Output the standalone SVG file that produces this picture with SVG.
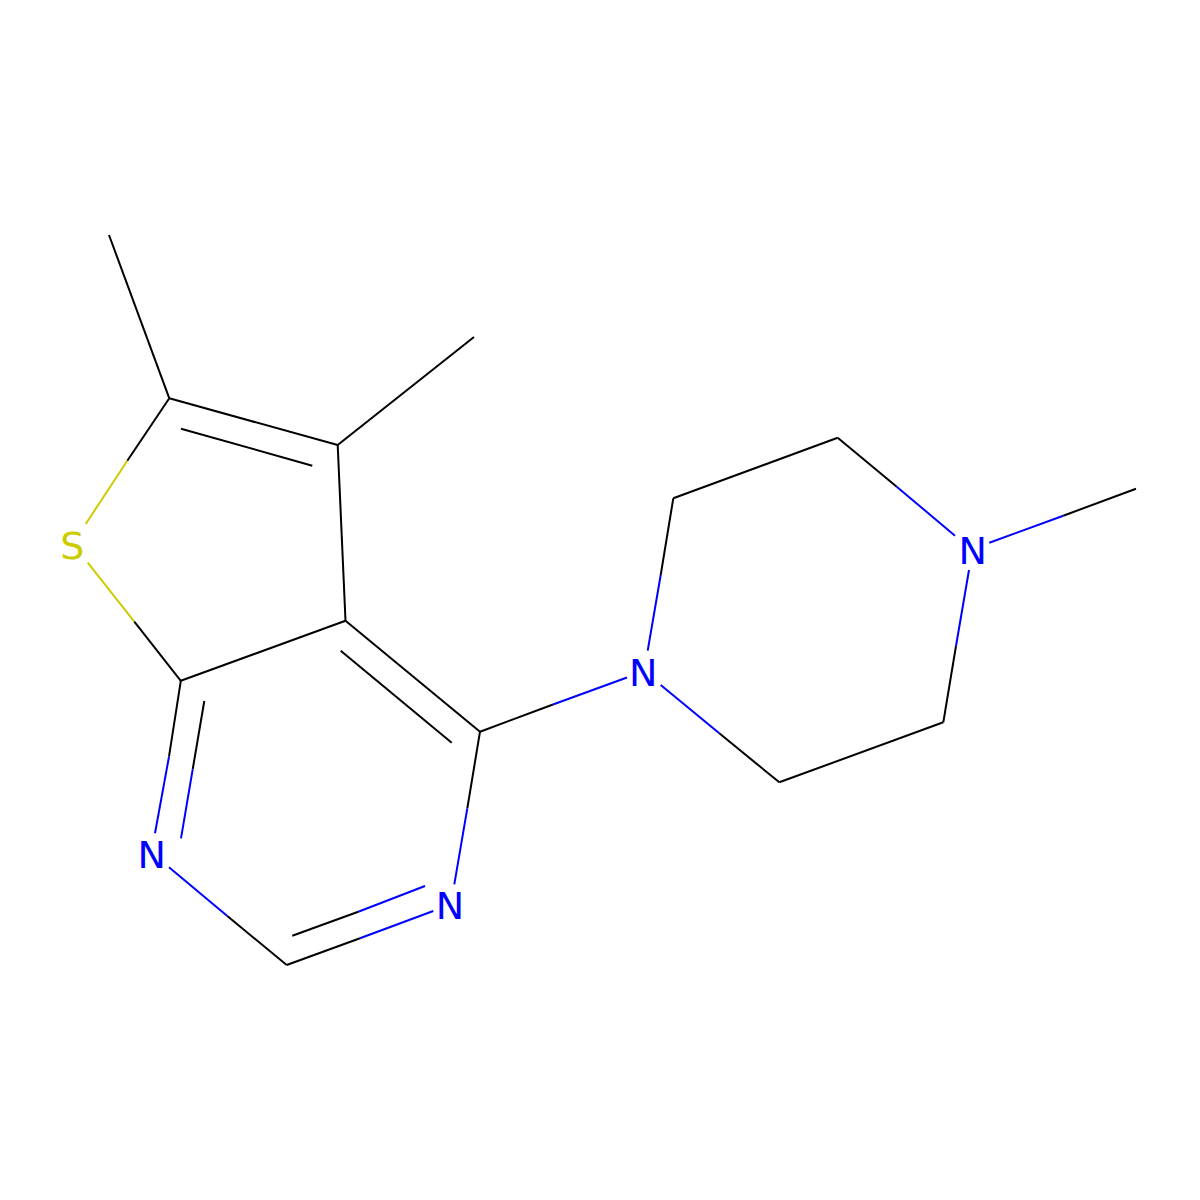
<svg xmlns="http://www.w3.org/2000/svg" width="1200" height="1200" viewBox="0 0 1200 1200">
<style>
.b{stroke:#000;stroke-width:2;fill:none;stroke-linecap:butt}
.n{stroke:#0000FF;stroke-width:2;fill:none}
.s{stroke:#CCCC00;stroke-width:2;fill:none}
.lab{font-family:"DejaVu Sans",sans-serif;font-size:38px;text-anchor:middle}
</style>
<rect width="1200" height="1200" fill="#fff"/>
<g id="connectors">
<line class="b" x1="109" y1="235" x2="169.3" y2="398.3"/>
<line class="b" x1="474" y1="337" x2="337.7" y2="445"/>
<line class="b" x1="169.3" y1="398.3" x2="337.7" y2="445"/>
<line class="b" x1="181" y1="428.7" x2="312.3" y2="465.7"/>
<line class="b" x1="337.7" y1="445" x2="345.5" y2="620.7"/>
<line class="b" x1="169.3" y1="398.3" x2="127.3" y2="460.7"/>
<line class="s" x1="127.3" y1="460.7" x2="85.7" y2="524"/>
<line class="s" x1="87.7" y1="562.7" x2="134.3" y2="621.7"/>
<line class="b" x1="134.3" y1="621.7" x2="180.8" y2="680.8"/>
<line class="b" x1="180.8" y1="680.8" x2="345.5" y2="620.7"/>
<line class="b" x1="345.5" y1="620.7" x2="480" y2="731.7"/>
<line class="b" x1="340.7" y1="650.7" x2="451.7" y2="742.7"/>
<line class="b" x1="180.8" y1="680.8" x2="169" y2="756.7"/>
<line class="n" x1="169" y1="756.7" x2="155" y2="833.3"/>
<line class="b" x1="204.3" y1="701" x2="192.7" y2="769.3"/>
<line class="n" x1="192.7" y1="769.3" x2="181" y2="838.3"/>
<line class="b" x1="480" y1="731.7" x2="467.3" y2="808.3"/>
<line class="n" x1="467.3" y1="808.3" x2="454.3" y2="884.3"/>
<line class="n" x1="433.3" y1="911" x2="360" y2="938.3"/>
<line class="b" x1="360" y1="938.3" x2="286.7" y2="965"/>
<line class="n" x1="425" y1="886" x2="358.3" y2="911.7"/>
<line class="b" x1="358.3" y1="911.7" x2="292.3" y2="935.7"/>
<line class="n" x1="169" y1="867.3" x2="227.3" y2="916"/>
<line class="b" x1="227.3" y1="916" x2="286.7" y2="965"/>
<line class="b" x1="480" y1="731.7" x2="553" y2="704.5"/>
<line class="n" x1="553" y1="704.5" x2="627" y2="677.5"/>
<line class="b" x1="673.3" y1="498.3" x2="660.7" y2="575"/>
<line class="n" x1="660.7" y1="575" x2="647.7" y2="650.7"/>
<line class="n" x1="660.7" y1="685" x2="719.3" y2="733.3"/>
<line class="b" x1="719.3" y1="733.3" x2="779.3" y2="782.3"/>
<line class="b" x1="779.3" y1="782.3" x2="943.3" y2="722.3"/>
<line class="b" x1="943.3" y1="722.3" x2="956" y2="646"/>
<line class="n" x1="956" y1="646" x2="969" y2="570"/>
<line class="b" x1="673.3" y1="498.3" x2="837.7" y2="437.7"/>
<line class="b" x1="837.7" y1="437.7" x2="896.7" y2="486.7"/>
<line class="n" x1="896.7" y1="486.7" x2="955" y2="535.7"/>
<line class="n" x1="989.3" y1="542.7" x2="1063.3" y2="515.7"/>
<line class="b" x1="1063.3" y1="515.7" x2="1136" y2="488.7"/>
</g>
<g id="atom-S"><text class="lab" x="72.3" y="558.8" fill="#CCCC00">S</text></g>
<g id="atom-N1"><text class="lab" x="151.7" y="867.8" fill="#0000FF">N</text></g>
<g id="atom-N3"><text class="lab" x="450" y="918.8" fill="#0000FF">N</text></g>
<g id="atom-N1p"><text class="lab" x="643.3" y="685.5" fill="#0000FF">N</text></g>
<g id="atom-N4p"><text class="lab" x="972.7" y="563.8" fill="#0000FF">N</text></g>
</svg>
